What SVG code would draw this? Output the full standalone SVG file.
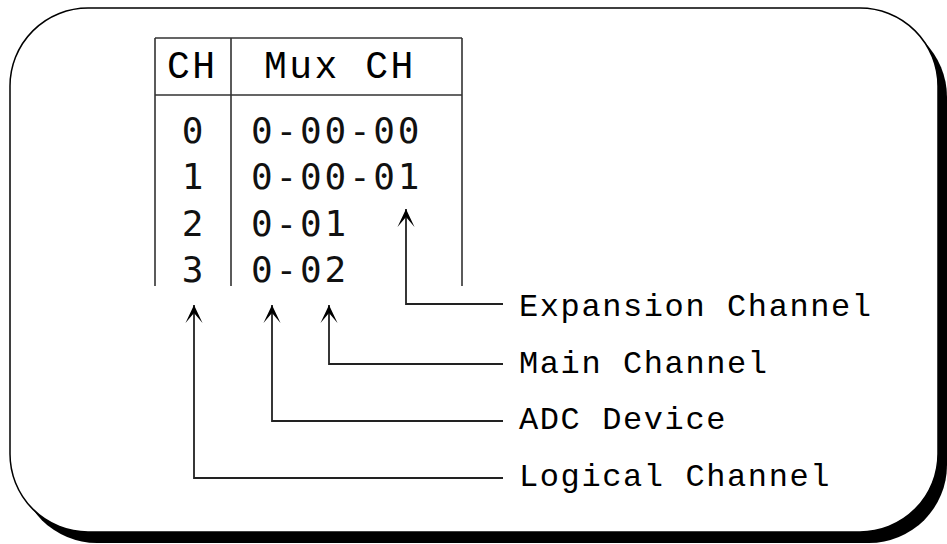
<svg xmlns="http://www.w3.org/2000/svg" width="947" height="544" viewBox="0 0 947 544">
  <style>
    .frame{fill:#fff;stroke:#000;stroke-width:1.5}
    .shadow{fill:#000}
    .grid{stroke:#333;stroke-width:1.6;fill:none}
    .conn{stroke:#222;stroke-width:1.8;fill:none}
    .hdr{font-family:"Liberation Mono","Courier New",monospace;font-size:38px;letter-spacing:2.5px;fill:#000}
    .num{font-family:"DejaVu Sans Mono","Liberation Mono",monospace;font-size:36px;letter-spacing:2.8px;fill:#111}
    .lbl{font-family:"Liberation Mono","Courier New",monospace;font-size:32px;letter-spacing:1.6px;fill:#000}
  </style>
  <defs>
    <marker id="ah" viewBox="-19 -10 20 20" refX="0" refY="0" markerWidth="20" markerHeight="20" markerUnits="userSpaceOnUse" orient="auto-start-reverse">
      <path d="M0,0 L-18,-8.5 L-8,0 L-18,8.5 Z" fill="#000"/>
    </marker>
  </defs>

  <g id="frame">
    <rect class="shadow" x="19" y="19" width="928" height="524" rx="78" ry="78"/>
    <rect class="frame" x="10" y="8" width="928" height="524" rx="78" ry="78"/>
  </g>

  <g id="table">
    <path class="grid" d="M155,38 H462 M155,95 H462 M155,38 V286 M231,38 V286 M462,38 V286"/>
    <text class="hdr" x="167" y="78">CH</text>
    <text class="hdr" x="264" y="78">Mux CH</text>
    <g class="num" text-anchor="middle">
      <text x="194" y="143">0</text>
      <text x="194" y="189">1</text>
      <text x="194" y="236">2</text>
      <text x="194" y="282">3</text>
    </g>
    <text class="num" x="251" y="143">0-00-00</text>
    <text class="num" x="251" y="189">0-00-01</text>
    <text class="num" x="251" y="236">0-01</text>
    <text class="num" x="251" y="282">0-02</text>
  </g>

  <g id="connectors">
    <path class="conn" d="M406,209 V304 H503" marker-start="url(#ah)"/>
    <path class="conn" d="M329,305 V364 H503" marker-start="url(#ah)"/>
    <path class="conn" d="M272,305 V421 H503" marker-start="url(#ah)"/>
    <path class="conn" d="M194,305 V478 H503" marker-start="url(#ah)"/>
  </g>

  <g id="label-expansion"><text class="lbl" x="519" y="316">Expansion Channel</text></g>
  <g id="label-main"><text class="lbl" x="519" y="373">Main Channel</text></g>
  <g id="label-adc"><text class="lbl" x="519" y="429">ADC Device</text></g>
  <g id="label-logical"><text class="lbl" x="519" y="486">Logical Channel</text></g>
</svg>
